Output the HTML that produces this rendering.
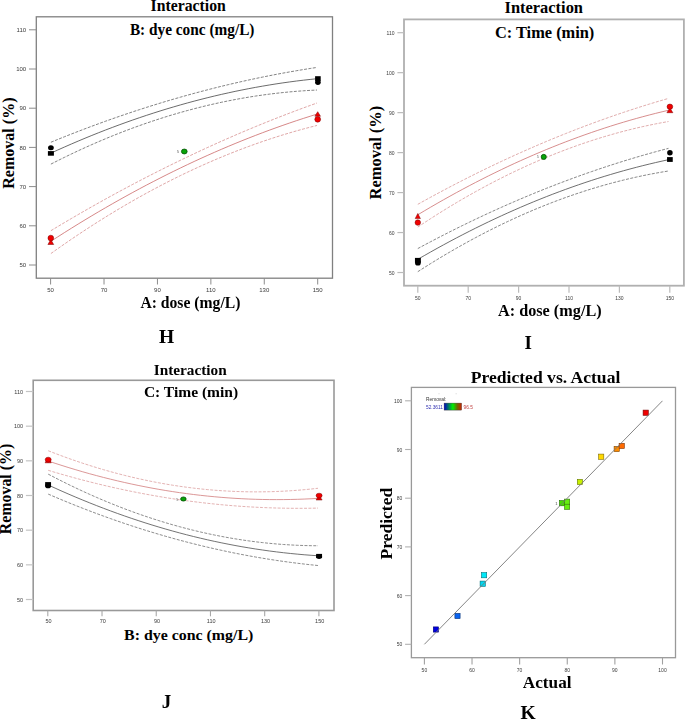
<!DOCTYPE html>
<html><head><meta charset="utf-8"><style>
html,body{margin:0;padding:0;background:#fff;}
body{width:685px;height:719px;overflow:hidden;}
svg{display:block;}
</style></head><body>
<svg width="685" height="719" viewBox="0 0 685 719">
<rect width="685" height="719" fill="#fff"/>
<rect x="36.3" y="16.8" width="296.2" height="261.4" fill="none" stroke="#808080" stroke-width="1.3"/>
<line x1="28.999999999999996" y1="29.80" x2="36.3" y2="29.80" stroke="#8c8c8c" stroke-width="1"/>
<text x="26.20" y="31.90" text-anchor="end" font-family='"Liberation Sans", sans-serif' font-size="6" fill="#3a3a3a" style="will-change:transform">110</text>
<line x1="28.999999999999996" y1="69.00" x2="36.3" y2="69.00" stroke="#8c8c8c" stroke-width="1"/>
<text x="26.20" y="71.10" text-anchor="end" font-family='"Liberation Sans", sans-serif' font-size="6" fill="#3a3a3a" style="will-change:transform">100</text>
<line x1="28.999999999999996" y1="108.20" x2="36.3" y2="108.20" stroke="#8c8c8c" stroke-width="1"/>
<text x="26.20" y="110.30" text-anchor="end" font-family='"Liberation Sans", sans-serif' font-size="6" fill="#3a3a3a" style="will-change:transform">90</text>
<line x1="28.999999999999996" y1="147.40" x2="36.3" y2="147.40" stroke="#8c8c8c" stroke-width="1"/>
<text x="26.20" y="149.50" text-anchor="end" font-family='"Liberation Sans", sans-serif' font-size="6" fill="#3a3a3a" style="will-change:transform">80</text>
<line x1="28.999999999999996" y1="186.60" x2="36.3" y2="186.60" stroke="#8c8c8c" stroke-width="1"/>
<text x="26.20" y="188.70" text-anchor="end" font-family='"Liberation Sans", sans-serif' font-size="6" fill="#3a3a3a" style="will-change:transform">70</text>
<line x1="28.999999999999996" y1="225.80" x2="36.3" y2="225.80" stroke="#8c8c8c" stroke-width="1"/>
<text x="26.20" y="227.90" text-anchor="end" font-family='"Liberation Sans", sans-serif' font-size="6" fill="#3a3a3a" style="will-change:transform">60</text>
<line x1="28.999999999999996" y1="265.00" x2="36.3" y2="265.00" stroke="#8c8c8c" stroke-width="1"/>
<text x="26.20" y="267.10" text-anchor="end" font-family='"Liberation Sans", sans-serif' font-size="6" fill="#3a3a3a" style="will-change:transform">50</text>
<line x1="50.60" y1="278.2" x2="50.60" y2="284.5" stroke="#8c8c8c" stroke-width="1"/>
<text x="50.60" y="292.40" text-anchor="middle" font-family='"Liberation Sans", sans-serif' font-size="6" fill="#3a3a3a" style="will-change:transform">50</text>
<line x1="104.02" y1="278.2" x2="104.02" y2="284.5" stroke="#8c8c8c" stroke-width="1"/>
<text x="104.02" y="292.40" text-anchor="middle" font-family='"Liberation Sans", sans-serif' font-size="6" fill="#3a3a3a" style="will-change:transform">70</text>
<line x1="157.44" y1="278.2" x2="157.44" y2="284.5" stroke="#8c8c8c" stroke-width="1"/>
<text x="157.44" y="292.40" text-anchor="middle" font-family='"Liberation Sans", sans-serif' font-size="6" fill="#3a3a3a" style="will-change:transform">90</text>
<line x1="210.86" y1="278.2" x2="210.86" y2="284.5" stroke="#8c8c8c" stroke-width="1"/>
<text x="210.86" y="292.40" text-anchor="middle" font-family='"Liberation Sans", sans-serif' font-size="6" fill="#3a3a3a" style="will-change:transform">110</text>
<line x1="264.28" y1="278.2" x2="264.28" y2="284.5" stroke="#8c8c8c" stroke-width="1"/>
<text x="264.28" y="292.40" text-anchor="middle" font-family='"Liberation Sans", sans-serif' font-size="6" fill="#3a3a3a" style="will-change:transform">130</text>
<line x1="317.70" y1="278.2" x2="317.70" y2="284.5" stroke="#8c8c8c" stroke-width="1"/>
<text x="317.70" y="292.40" text-anchor="middle" font-family='"Liberation Sans", sans-serif' font-size="6" fill="#3a3a3a" style="will-change:transform">150</text>
<text transform="translate(150.6,10.5) scale(0.9973,1)" font-family='"Liberation Serif", serif' font-size="15.8" font-weight="bold" fill="#000">Interaction</text>
<text transform="translate(129.9,34.9) scale(0.9695,1)" font-family='"Liberation Serif", serif' font-size="15.8" font-weight="bold" fill="#000">B: dye conc (mg/L)</text>
<text transform="translate(140.4,308.2) scale(0.992,1)" font-family='"Liberation Serif", serif' font-size="15.8" font-weight="bold" fill="#000">A: dose (mg/L)</text>
<text transform="translate(13.5,143.1) rotate(-90)" text-anchor="middle" font-family='"Liberation Serif", serif' font-size="16.05" font-weight="bold" fill="#000">Removal (%)</text>
<text x="166.5" y="342.5" text-anchor="middle" font-family='"Liberation Serif", serif' font-size="19.5" font-weight="bold" fill="#000" >H</text>
<path d="M50.90,142.25 L57.72,139.46 L64.55,136.72 L71.37,134.03 L78.19,131.38 L85.02,128.78 L91.84,126.22 L98.66,123.71 L105.48,121.24 L112.31,118.82 L119.13,116.45 L125.95,114.12 L132.78,111.83 L139.60,109.60 L146.42,107.40 L153.25,105.26 L160.07,103.16 L166.89,101.10 L173.72,99.09 L180.54,97.13 L187.36,95.21 L194.18,93.34 L201.01,91.51 L207.83,89.73 L214.65,87.99 L221.48,86.30 L228.30,84.65 L235.12,83.05 L241.95,81.50 L248.77,79.99 L255.59,78.53 L262.42,77.11 L269.24,75.74 L276.06,74.41 L282.88,73.13 L289.71,71.90 L296.53,70.71 L303.35,69.57 L310.18,68.47 L317.00,67.42" fill="none" stroke="#5a5a5a" stroke-width="0.75" stroke-dasharray="3,1.4"/>
<path d="M50.90,153.14 L57.72,150.03 L64.55,146.99 L71.37,144.00 L78.19,141.09 L85.02,138.23 L91.84,135.44 L98.66,132.71 L105.48,130.04 L112.31,127.44 L119.13,124.90 L125.95,122.43 L132.78,120.01 L139.60,117.66 L146.42,115.38 L153.25,113.15 L160.07,110.99 L166.89,108.89 L173.72,106.86 L180.54,104.89 L187.36,102.98 L194.18,101.14 L201.01,99.35 L207.83,97.63 L214.65,95.98 L221.48,94.39 L228.30,92.86 L235.12,91.39 L241.95,89.99 L248.77,88.65 L255.59,87.37 L262.42,86.16 L269.24,85.01 L276.06,83.92 L282.88,82.89 L289.71,81.93 L296.53,81.03 L303.35,80.20 L310.18,79.43 L317.00,78.72" fill="none" stroke="#454545" stroke-width="0.8"/>
<path d="M50.90,164.12 L57.72,160.66 L64.55,157.29 L71.37,153.99 L78.19,150.78 L85.02,147.65 L91.84,144.60 L98.66,141.64 L105.48,138.76 L112.31,135.95 L119.13,133.23 L125.95,130.60 L132.78,128.04 L139.60,125.57 L146.42,123.18 L153.25,120.87 L160.07,118.64 L166.89,116.49 L173.72,114.43 L180.54,112.45 L187.36,110.55 L194.18,108.73 L201.01,106.99 L207.83,105.34 L214.65,103.77 L221.48,102.28 L228.30,100.87 L235.12,99.55 L241.95,98.30 L248.77,97.14 L255.59,96.06 L262.42,95.07 L269.24,94.15 L276.06,93.32 L282.88,92.56 L289.71,91.90 L296.53,91.31 L303.35,90.80 L310.18,90.38 L317.00,90.04" fill="none" stroke="#5a5a5a" stroke-width="0.75" stroke-dasharray="3,1.4"/>
<path d="M50.90,230.69 L57.72,226.59 L64.55,222.53 L71.37,218.52 L78.19,214.55 L85.02,210.62 L91.84,206.73 L98.66,202.89 L105.48,199.10 L112.31,195.34 L119.13,191.63 L125.95,187.97 L132.78,184.35 L139.60,180.77 L146.42,177.23 L153.25,173.74 L160.07,170.29 L166.89,166.89 L173.72,163.53 L180.54,160.21 L187.36,156.94 L194.18,153.71 L201.01,150.52 L207.83,147.38 L214.65,144.28 L221.48,141.22 L228.30,138.21 L235.12,135.24 L241.95,132.31 L248.77,129.43 L255.59,126.59 L262.42,123.80 L269.24,121.05 L276.06,118.34 L282.88,115.68 L289.71,113.06 L296.53,110.48 L303.35,107.95 L310.18,105.46 L317.00,103.01" fill="none" stroke="#d48a8a" stroke-width="0.75" stroke-dasharray="3,1.4"/>
<path d="M50.90,241.26 L57.72,236.86 L64.55,232.52 L71.37,228.25 L78.19,224.03 L85.02,219.87 L91.84,215.77 L98.66,211.73 L105.48,207.75 L112.31,203.84 L119.13,199.98 L125.95,196.18 L132.78,192.44 L139.60,188.76 L146.42,185.14 L153.25,181.58 L160.07,178.08 L166.89,174.64 L173.72,171.26 L180.54,167.94 L187.36,164.68 L194.18,161.48 L201.01,158.34 L207.83,155.26 L214.65,152.24 L221.48,149.28 L228.30,146.38 L235.12,143.54 L241.95,140.76 L248.77,138.04 L255.59,135.38 L262.42,132.78 L269.24,130.23 L276.06,127.75 L282.88,125.33 L289.71,122.97 L296.53,120.67 L303.35,118.43 L310.18,116.24 L317.00,114.12" fill="none" stroke="#cc6a6a" stroke-width="0.8"/>
<path d="M50.90,253.54 L57.72,248.70 L64.55,243.94 L71.37,239.26 L78.19,234.66 L85.02,230.15 L91.84,225.71 L98.66,221.36 L105.48,217.09 L112.31,212.91 L119.13,208.80 L125.95,204.78 L132.78,200.84 L139.60,196.98 L146.42,193.20 L153.25,189.51 L160.07,185.90 L166.89,182.37 L173.72,178.92 L180.54,175.55 L187.36,172.27 L194.18,169.06 L201.01,165.94 L207.83,162.91 L214.65,159.95 L221.48,157.08 L228.30,154.28 L235.12,151.57 L241.95,148.95 L248.77,146.40 L255.59,143.94 L262.42,141.55 L269.24,139.25 L276.06,137.04 L282.88,134.90 L289.71,132.85 L296.53,130.88 L303.35,128.99 L310.18,127.18 L317.00,125.45" fill="none" stroke="#d48a8a" stroke-width="0.75" stroke-dasharray="3,1.4"/>
<ellipse cx="50.9" cy="147.8" rx="2.9" ry="2.5" fill="#000" stroke="none" stroke-width="0"/>
<rect x="47.90" y="151.10" width="6" height="4.6" fill="#000" stroke="none" stroke-width="0"/>
<rect x="315.10" y="76.20" width="5.6" height="4.8" fill="#000" stroke="none" stroke-width="0"/>
<ellipse cx="317.9" cy="82.3" rx="2.8" ry="2.7" fill="#000" stroke="none" stroke-width="0"/>
<polygon points="317.70,111.70 320.50,116.25 314.90,116.25" fill="#f00000" stroke="#7a0000" stroke-width="0.5"/>
<circle cx="317.7" cy="119.3" r="2.9" fill="#f00000" stroke="#7a0000" stroke-width="0.5"/>
<polygon points="50.80,239.50 53.70,244.50 47.90,244.50" fill="#f00000" stroke="#7a0000" stroke-width="0.5"/>
<circle cx="50.8" cy="238.05" r="2.85" fill="#f00000" stroke="#7a0000" stroke-width="0.5"/>
<ellipse cx="184.3" cy="151.5" rx="2.85" ry="2.45" fill="#08a408" stroke="#045004" stroke-width="0.8"/>
<text x="177.9" y="153.1" text-anchor="middle" font-family='"Liberation Sans", sans-serif' font-size="4.2" font-weight="normal" fill="#666" style="will-change:transform">5</text>
<rect x="404.0" y="19.4" width="279.9" height="266.3" fill="none" stroke="#b0b0b0" stroke-width="1.8"/>
<line x1="397.4" y1="32.70" x2="404.0" y2="32.70" stroke="#bbbbbb" stroke-width="1.2"/>
<text x="394.60" y="34.80" text-anchor="end" font-family='"Liberation Sans", sans-serif' font-size="5" fill="#3a3a3a" style="will-change:transform">110</text>
<line x1="397.4" y1="72.67" x2="404.0" y2="72.67" stroke="#bbbbbb" stroke-width="1.2"/>
<text x="394.60" y="74.77" text-anchor="end" font-family='"Liberation Sans", sans-serif' font-size="5" fill="#3a3a3a" style="will-change:transform">100</text>
<line x1="397.4" y1="112.64" x2="404.0" y2="112.64" stroke="#bbbbbb" stroke-width="1.2"/>
<text x="394.60" y="114.74" text-anchor="end" font-family='"Liberation Sans", sans-serif' font-size="5" fill="#3a3a3a" style="will-change:transform">90</text>
<line x1="397.4" y1="152.61" x2="404.0" y2="152.61" stroke="#bbbbbb" stroke-width="1.2"/>
<text x="394.60" y="154.71" text-anchor="end" font-family='"Liberation Sans", sans-serif' font-size="5" fill="#3a3a3a" style="will-change:transform">80</text>
<line x1="397.4" y1="192.58" x2="404.0" y2="192.58" stroke="#bbbbbb" stroke-width="1.2"/>
<text x="394.60" y="194.68" text-anchor="end" font-family='"Liberation Sans", sans-serif' font-size="5" fill="#3a3a3a" style="will-change:transform">70</text>
<line x1="397.4" y1="232.55" x2="404.0" y2="232.55" stroke="#bbbbbb" stroke-width="1.2"/>
<text x="394.60" y="234.65" text-anchor="end" font-family='"Liberation Sans", sans-serif' font-size="5" fill="#3a3a3a" style="will-change:transform">60</text>
<line x1="397.4" y1="272.52" x2="404.0" y2="272.52" stroke="#bbbbbb" stroke-width="1.2"/>
<text x="394.60" y="274.62" text-anchor="end" font-family='"Liberation Sans", sans-serif' font-size="5" fill="#3a3a3a" style="will-change:transform">50</text>
<line x1="417.80" y1="285.7" x2="417.80" y2="292.7" stroke="#bbbbbb" stroke-width="1.2"/>
<text x="417.80" y="299.50" text-anchor="middle" font-family='"Liberation Sans", sans-serif' font-size="5" fill="#3a3a3a" style="will-change:transform">50</text>
<line x1="468.20" y1="285.7" x2="468.20" y2="292.7" stroke="#bbbbbb" stroke-width="1.2"/>
<text x="468.20" y="299.50" text-anchor="middle" font-family='"Liberation Sans", sans-serif' font-size="5" fill="#3a3a3a" style="will-change:transform">70</text>
<line x1="518.60" y1="285.7" x2="518.60" y2="292.7" stroke="#bbbbbb" stroke-width="1.2"/>
<text x="518.60" y="299.50" text-anchor="middle" font-family='"Liberation Sans", sans-serif' font-size="5" fill="#3a3a3a" style="will-change:transform">90</text>
<line x1="569.00" y1="285.7" x2="569.00" y2="292.7" stroke="#bbbbbb" stroke-width="1.2"/>
<text x="569.00" y="299.50" text-anchor="middle" font-family='"Liberation Sans", sans-serif' font-size="5" fill="#3a3a3a" style="will-change:transform">110</text>
<line x1="619.40" y1="285.7" x2="619.40" y2="292.7" stroke="#bbbbbb" stroke-width="1.2"/>
<text x="619.40" y="299.50" text-anchor="middle" font-family='"Liberation Sans", sans-serif' font-size="5" fill="#3a3a3a" style="will-change:transform">130</text>
<line x1="669.80" y1="285.7" x2="669.80" y2="292.7" stroke="#bbbbbb" stroke-width="1.2"/>
<text x="669.80" y="299.50" text-anchor="middle" font-family='"Liberation Sans", sans-serif' font-size="5" fill="#3a3a3a" style="will-change:transform">150</text>
<text transform="translate(504.49,12.9) scale(1.0092,1)" font-family='"Liberation Serif", serif' font-size="16.3" font-weight="bold" fill="#000">Interaction</text>
<text transform="translate(494.89,38.4) scale(1.0052,1)" font-family='"Liberation Serif", serif' font-size="16.3" font-weight="bold" fill="#000">C: Time (min)</text>
<text transform="translate(498.0,315.5) scale(0.9961,1)" font-family='"Liberation Serif", serif' font-size="16.3" font-weight="bold" fill="#000">A: dose (mg/L)</text>
<text transform="translate(380.5,152.6) rotate(-90)" text-anchor="middle" font-family='"Liberation Serif", serif' font-size="16.45" font-weight="bold" fill="#000">Removal (%)</text>
<text x="528.3" y="348.6" text-anchor="middle" font-family='"Liberation Serif", serif' font-size="19" font-weight="bold" fill="#000" >I</text>
<path d="M417.80,204.32 L424.23,200.75 L430.66,197.23 L437.08,193.75 L443.51,190.31 L449.94,186.92 L456.37,183.58 L462.80,180.28 L469.23,177.02 L475.65,173.81 L482.08,170.64 L488.51,167.52 L494.94,164.45 L501.37,161.42 L507.79,158.43 L514.22,155.49 L520.65,152.60 L527.08,149.75 L533.51,146.94 L539.94,144.18 L546.36,141.46 L552.79,138.79 L559.22,136.17 L565.65,133.58 L572.08,131.05 L578.51,128.56 L584.93,126.11 L591.36,123.71 L597.79,121.35 L604.22,119.04 L610.65,116.77 L617.07,114.55 L623.50,112.38 L629.93,110.24 L636.36,108.16 L642.79,106.12 L649.22,104.12 L655.64,102.17 L662.07,100.26 L668.50,98.40" fill="none" stroke="#d89898" stroke-width="0.8" stroke-dasharray="3,1.4"/>
<path d="M417.80,214.79 L424.23,210.95 L430.66,207.17 L437.08,203.45 L443.51,199.79 L449.94,196.19 L456.37,192.65 L462.80,189.18 L469.23,185.76 L475.65,182.41 L482.08,179.12 L488.51,175.89 L494.94,172.72 L501.37,169.61 L507.79,166.56 L514.22,163.57 L520.65,160.65 L527.08,157.79 L533.51,154.98 L539.94,152.24 L546.36,149.56 L552.79,146.94 L559.22,144.39 L565.65,141.89 L572.08,139.46 L578.51,137.08 L584.93,134.77 L591.36,132.52 L597.79,130.33 L604.22,128.20 L610.65,126.13 L617.07,124.12 L623.50,122.18 L629.93,120.29 L636.36,118.47 L642.79,116.71 L649.22,115.01 L655.64,113.37 L662.07,111.79 L668.50,110.28" fill="none" stroke="#d07a7a" stroke-width="0.85"/>
<path d="M417.80,227.05 L424.23,222.79 L430.66,218.61 L437.08,214.51 L443.51,210.49 L449.94,206.56 L456.37,202.70 L462.80,198.93 L469.23,195.24 L475.65,191.64 L482.08,188.11 L488.51,184.67 L494.94,181.31 L501.37,178.03 L507.79,174.83 L514.22,171.71 L520.65,168.68 L527.08,165.73 L533.51,162.86 L539.94,160.07 L546.36,157.36 L552.79,154.74 L559.22,152.20 L565.65,149.74 L572.08,147.36 L578.51,145.06 L584.93,142.85 L591.36,140.71 L597.79,138.66 L604.22,136.69 L610.65,134.81 L617.07,133.00 L623.50,131.28 L629.93,129.64 L636.36,128.08 L642.79,126.60 L649.22,125.21 L655.64,123.89 L662.07,122.66 L668.50,121.51" fill="none" stroke="#d89898" stroke-width="0.8" stroke-dasharray="3,1.4"/>
<path d="M417.80,248.57 L424.23,245.12 L430.66,241.71 L437.08,238.36 L443.51,235.05 L449.94,231.78 L456.37,228.56 L462.80,225.39 L469.23,222.27 L475.65,219.19 L482.08,216.15 L488.51,213.17 L494.94,210.23 L501.37,207.33 L507.79,204.49 L514.22,201.69 L520.65,198.93 L527.08,196.22 L533.51,193.56 L539.94,190.94 L546.36,188.37 L552.79,185.85 L559.22,183.37 L565.65,180.94 L572.08,178.56 L578.51,176.22 L584.93,173.92 L591.36,171.68 L597.79,169.48 L604.22,167.33 L610.65,165.22 L617.07,163.16 L623.50,161.14 L629.93,159.18 L636.36,157.25 L642.79,155.38 L649.22,153.55 L655.64,151.77 L662.07,150.03 L668.50,148.34" fill="none" stroke="#6a6a6a" stroke-width="0.8" stroke-dasharray="3,1.4"/>
<path d="M417.80,259.34 L424.23,255.63 L430.66,251.98 L437.08,248.39 L443.51,244.86 L449.94,241.39 L456.37,237.98 L462.80,234.63 L469.23,231.35 L475.65,228.12 L482.08,224.96 L488.51,221.85 L494.94,218.81 L501.37,215.83 L507.79,212.91 L514.22,210.05 L520.65,207.25 L527.08,204.51 L533.51,201.84 L539.94,199.22 L546.36,196.67 L552.79,194.17 L559.22,191.74 L565.65,189.37 L572.08,187.06 L578.51,184.81 L584.93,182.62 L591.36,180.49 L597.79,178.42 L604.22,176.42 L610.65,174.47 L617.07,172.59 L623.50,170.76 L629.93,169.00 L636.36,167.30 L642.79,165.66 L649.22,164.08 L655.64,162.56 L662.07,161.10 L668.50,159.70" fill="none" stroke="#555555" stroke-width="0.85"/>
<path d="M417.80,271.70 L424.23,267.59 L430.66,263.56 L437.08,259.61 L443.51,255.74 L449.94,251.96 L456.37,248.25 L462.80,244.62 L469.23,241.07 L475.65,237.61 L482.08,234.22 L488.51,230.91 L494.94,227.69 L501.37,224.54 L507.79,221.48 L514.22,218.49 L520.65,215.59 L527.08,212.77 L533.51,210.02 L539.94,207.36 L546.36,204.78 L552.79,202.28 L559.22,199.85 L565.65,197.51 L572.08,195.25 L578.51,193.07 L584.93,190.97 L591.36,188.95 L597.79,187.01 L604.22,185.15 L610.65,183.38 L617.07,181.68 L623.50,180.06 L629.93,178.52 L636.36,177.07 L642.79,175.69 L649.22,174.39 L655.64,173.18 L662.07,172.04 L668.50,170.99" fill="none" stroke="#6a6a6a" stroke-width="0.8" stroke-dasharray="3,1.4"/>
<polygon points="417.80,213.50 420.40,218.60 415.20,218.60" fill="#f00000" stroke="#7a0000" stroke-width="0.5"/>
<circle cx="417.8" cy="222.6" r="2.75" fill="#f00000" stroke="#7a0000" stroke-width="0.5"/>
<rect x="414.95" y="257.90" width="5.9" height="4.8" fill="#000" stroke="none" stroke-width="0"/>
<circle cx="417.9" cy="262.7" r="2.9" fill="#000" stroke="none" stroke-width="0"/>
<circle cx="543.75" cy="156.9" r="2.55" fill="#08a408" stroke="#045004" stroke-width="0.8"/>
<text x="537.8" y="158.3" text-anchor="middle" font-family='"Liberation Sans", sans-serif' font-size="3.8" font-weight="normal" fill="#666" style="will-change:transform">5</text>
<polygon points="669.90,108.10 672.90,112.70 666.90,112.70" fill="#f00000" stroke="#7a0000" stroke-width="0.5"/>
<ellipse cx="669.9" cy="106.7" rx="2.85" ry="2.65" fill="#f00000" stroke="#7a0000" stroke-width="0.5"/>
<circle cx="669.9" cy="152.7" r="2.75" fill="#000" stroke="none" stroke-width="0"/>
<rect x="667.05" y="157.10" width="5.7" height="4.8" fill="#000" stroke="none" stroke-width="0"/>
<rect x="33.2" y="380.3" width="300.8" height="230.2" fill="none" stroke="#999999" stroke-width="1.6"/>
<line x1="25.900000000000002" y1="391.50" x2="33.2" y2="391.50" stroke="#c4c4c4" stroke-width="1.2"/>
<text x="23.10" y="393.60" text-anchor="end" font-family='"Liberation Sans", sans-serif' font-size="5.5" fill="#3a3a3a" style="will-change:transform">110</text>
<line x1="25.900000000000002" y1="426.17" x2="33.2" y2="426.17" stroke="#c4c4c4" stroke-width="1.2"/>
<text x="23.10" y="428.27" text-anchor="end" font-family='"Liberation Sans", sans-serif' font-size="5.5" fill="#3a3a3a" style="will-change:transform">100</text>
<line x1="25.900000000000002" y1="460.83" x2="33.2" y2="460.83" stroke="#c4c4c4" stroke-width="1.2"/>
<text x="23.10" y="462.93" text-anchor="end" font-family='"Liberation Sans", sans-serif' font-size="5.5" fill="#3a3a3a" style="will-change:transform">90</text>
<line x1="25.900000000000002" y1="495.50" x2="33.2" y2="495.50" stroke="#c4c4c4" stroke-width="1.2"/>
<text x="23.10" y="497.60" text-anchor="end" font-family='"Liberation Sans", sans-serif' font-size="5.5" fill="#3a3a3a" style="will-change:transform">80</text>
<line x1="25.900000000000002" y1="530.17" x2="33.2" y2="530.17" stroke="#c4c4c4" stroke-width="1.2"/>
<text x="23.10" y="532.27" text-anchor="end" font-family='"Liberation Sans", sans-serif' font-size="5.5" fill="#3a3a3a" style="will-change:transform">70</text>
<line x1="25.900000000000002" y1="564.84" x2="33.2" y2="564.84" stroke="#c4c4c4" stroke-width="1.2"/>
<text x="23.10" y="566.94" text-anchor="end" font-family='"Liberation Sans", sans-serif' font-size="5.5" fill="#3a3a3a" style="will-change:transform">60</text>
<line x1="25.900000000000002" y1="599.50" x2="33.2" y2="599.50" stroke="#c4c4c4" stroke-width="1.2"/>
<text x="23.10" y="601.60" text-anchor="end" font-family='"Liberation Sans", sans-serif' font-size="5.5" fill="#3a3a3a" style="will-change:transform">50</text>
<line x1="47.80" y1="610.5" x2="47.80" y2="616.3" stroke="#a8a8a8" stroke-width="1.1"/>
<text x="48.60" y="623.00" text-anchor="middle" font-family='"Liberation Sans", sans-serif' font-size="5.5" fill="#3a3a3a" style="will-change:transform">50</text>
<line x1="102.02" y1="610.5" x2="102.02" y2="616.3" stroke="#a8a8a8" stroke-width="1.1"/>
<text x="102.82" y="623.00" text-anchor="middle" font-family='"Liberation Sans", sans-serif' font-size="5.5" fill="#3a3a3a" style="will-change:transform">70</text>
<line x1="156.24" y1="610.5" x2="156.24" y2="616.3" stroke="#a8a8a8" stroke-width="1.1"/>
<text x="157.04" y="623.00" text-anchor="middle" font-family='"Liberation Sans", sans-serif' font-size="5.5" fill="#3a3a3a" style="will-change:transform">90</text>
<line x1="210.46" y1="610.5" x2="210.46" y2="616.3" stroke="#a8a8a8" stroke-width="1.1"/>
<text x="211.26" y="623.00" text-anchor="middle" font-family='"Liberation Sans", sans-serif' font-size="5.5" fill="#3a3a3a" style="will-change:transform">110</text>
<line x1="264.68" y1="610.5" x2="264.68" y2="616.3" stroke="#a8a8a8" stroke-width="1.1"/>
<text x="265.48" y="623.00" text-anchor="middle" font-family='"Liberation Sans", sans-serif' font-size="5.5" fill="#3a3a3a" style="will-change:transform">130</text>
<line x1="318.90" y1="610.5" x2="318.90" y2="616.3" stroke="#a8a8a8" stroke-width="1.1"/>
<text x="319.70" y="623.00" text-anchor="middle" font-family='"Liberation Sans", sans-serif' font-size="5.5" fill="#3a3a3a" style="will-change:transform">150</text>
<text transform="translate(153.71,375.0) scale(0.9863,1)" font-family='"Liberation Serif", serif' font-size="15.5" font-weight="bold" fill="#000">Interaction</text>
<text transform="translate(143.9,396.9) scale(1.0022,1)" font-family='"Liberation Serif", serif' font-size="15.5" font-weight="bold" fill="#000">C: Time (min)</text>
<text transform="translate(124.07,640.2) scale(1.0256,1)" font-family='"Liberation Serif", serif' font-size="15.5" font-weight="bold" fill="#000">B: dye conc (mg/L)</text>
<text transform="translate(10.8,489.0) rotate(-90)" text-anchor="middle" font-family='"Liberation Serif", serif' font-size="15.9" font-weight="bold" fill="#000">Removal (%)</text>
<text x="166.5" y="707.7" text-anchor="middle" font-family='"Liberation Serif", serif' font-size="19" font-weight="bold" fill="#000" >J</text>
<path d="M48.20,450.73 L55.12,453.41 L62.04,456.01 L68.95,458.52 L75.87,460.93 L82.79,463.26 L89.71,465.49 L96.63,467.63 L103.54,469.69 L110.46,471.65 L117.38,473.52 L124.30,475.30 L131.22,476.99 L138.13,478.59 L145.05,480.09 L151.97,481.51 L158.89,482.84 L165.81,484.07 L172.72,485.22 L179.64,486.27 L186.56,487.23 L193.48,488.11 L200.39,488.89 L207.31,489.58 L214.23,490.18 L221.15,490.69 L228.07,491.10 L234.98,491.43 L241.90,491.67 L248.82,491.81 L255.74,491.87 L262.66,491.83 L269.57,491.71 L276.49,491.49 L283.41,491.18 L290.33,490.78 L297.25,490.30 L304.16,489.71 L311.08,489.04 L318.00,488.28" fill="none" stroke="#dca0a0" stroke-width="0.8" stroke-dasharray="3,1.4"/>
<path d="M48.20,461.00 L55.12,463.30 L62.04,465.53 L68.95,467.70 L75.87,469.78 L82.79,471.80 L89.71,473.75 L96.63,475.63 L103.54,477.44 L110.46,479.17 L117.38,480.84 L124.30,482.43 L131.22,483.96 L138.13,485.41 L145.05,486.79 L151.97,488.11 L158.89,489.35 L165.81,490.52 L172.72,491.62 L179.64,492.65 L186.56,493.60 L193.48,494.49 L200.39,495.31 L207.31,496.05 L214.23,496.73 L221.15,497.33 L228.07,497.87 L234.98,498.33 L241.90,498.72 L248.82,499.05 L255.74,499.30 L262.66,499.48 L269.57,499.59 L276.49,499.62 L283.41,499.59 L290.33,499.49 L297.25,499.32 L304.16,499.07 L311.08,498.76 L318.00,498.37" fill="none" stroke="#d48484" stroke-width="0.85"/>
<path d="M48.20,470.31 L55.12,472.38 L62.04,474.39 L68.95,476.35 L75.87,478.25 L82.79,480.09 L89.71,481.87 L96.63,483.59 L103.54,485.26 L110.46,486.87 L117.38,488.42 L124.30,489.91 L131.22,491.34 L138.13,492.72 L145.05,494.03 L151.97,495.29 L158.89,496.50 L165.81,497.64 L172.72,498.72 L179.64,499.75 L186.56,500.72 L193.48,501.63 L200.39,502.48 L207.31,503.28 L214.23,504.01 L221.15,504.69 L228.07,505.31 L234.98,505.87 L241.90,506.38 L248.82,506.82 L255.74,507.21 L262.66,507.54 L269.57,507.81 L276.49,508.03 L283.41,508.18 L290.33,508.28 L297.25,508.32 L304.16,508.30 L311.08,508.22 L318.00,508.09" fill="none" stroke="#dca0a0" stroke-width="0.8" stroke-dasharray="3,1.4"/>
<path d="M48.20,474.13 L55.12,477.74 L62.04,481.25 L68.95,484.68 L75.87,488.00 L82.79,491.24 L89.71,494.38 L96.63,497.43 L103.54,500.38 L110.46,503.24 L117.38,506.01 L124.30,508.69 L131.22,511.27 L138.13,513.76 L145.05,516.15 L151.97,518.45 L158.89,520.66 L165.81,522.78 L172.72,524.80 L179.64,526.73 L186.56,528.57 L193.48,530.31 L200.39,531.96 L207.31,533.52 L214.23,534.98 L221.15,536.35 L228.07,537.63 L234.98,538.81 L241.90,539.90 L248.82,540.90 L255.74,541.81 L262.66,542.62 L269.57,543.34 L276.49,543.96 L283.41,544.49 L290.33,544.93 L297.25,545.28 L304.16,545.53 L311.08,545.69 L318.00,545.75" fill="none" stroke="#707070" stroke-width="0.8" stroke-dasharray="3,1.4"/>
<path d="M48.20,484.98 L55.12,488.14 L62.04,491.24 L68.95,494.26 L75.87,497.21 L82.79,500.08 L89.71,502.89 L96.63,505.63 L103.54,508.29 L110.46,510.89 L117.38,513.41 L124.30,515.87 L131.22,518.25 L138.13,520.56 L145.05,522.80 L151.97,524.97 L158.89,527.07 L165.81,529.10 L172.72,531.05 L179.64,532.94 L186.56,534.75 L193.48,536.50 L200.39,538.17 L207.31,539.77 L214.23,541.30 L221.15,542.76 L228.07,544.15 L234.98,545.47 L241.90,546.72 L248.82,547.89 L255.74,549.00 L262.66,550.03 L269.57,551.00 L276.49,551.89 L283.41,552.71 L290.33,553.46 L297.25,554.14 L304.16,554.75 L311.08,555.29 L318.00,555.75" fill="none" stroke="#5a5a5a" stroke-width="0.85"/>
<path d="M48.20,494.10 L55.12,497.06 L62.04,499.96 L68.95,502.80 L75.87,505.58 L82.79,508.30 L89.71,510.96 L96.63,513.57 L103.54,516.11 L110.46,518.59 L117.38,521.02 L124.30,523.38 L131.22,525.69 L138.13,527.93 L145.05,530.12 L151.97,532.25 L158.89,534.32 L165.81,536.33 L172.72,538.28 L179.64,540.17 L186.56,542.00 L193.48,543.77 L200.39,545.48 L207.31,547.14 L214.23,548.73 L221.15,550.26 L228.07,551.74 L234.98,553.16 L241.90,554.51 L248.82,555.81 L255.74,557.05 L262.66,558.23 L269.57,559.35 L276.49,560.41 L283.41,561.41 L290.33,562.35 L297.25,563.23 L304.16,564.05 L311.08,564.82 L318.00,565.52" fill="none" stroke="#707070" stroke-width="0.8" stroke-dasharray="3,1.4"/>
<polygon points="48.20,458.00 51.30,462.80 45.10,462.80" fill="#f00000" stroke="#7a0000" stroke-width="0.5"/>
<ellipse cx="48.2" cy="459.7" rx="3" ry="2.5" fill="#f00000" stroke="#7a0000" stroke-width="0.5"/>
<rect x="45.15" y="482.10" width="5.9" height="4.4" fill="#000" stroke="none" stroke-width="0"/>
<ellipse cx="48.1" cy="485.9" rx="2.95" ry="2.4" fill="#000" stroke="none" stroke-width="0"/>
<ellipse cx="183.4" cy="499" rx="2.75" ry="2.05" fill="#08a408" stroke="#045004" stroke-width="0.8"/>
<text x="177.2" y="500.6" text-anchor="middle" font-family='"Liberation Sans", sans-serif' font-size="3.8" font-weight="normal" fill="#666" style="will-change:transform">5</text>
<polygon points="319.10,495.50 322.15,500.00 316.05,500.00" fill="#f00000" stroke="#7a0000" stroke-width="0.5"/>
<ellipse cx="319.1" cy="495.6" rx="3" ry="2.4" fill="#f00000" stroke="#7a0000" stroke-width="0.5"/>
<rect x="316.15" y="553.90" width="5.9" height="4.2" fill="#000" stroke="none" stroke-width="0"/>
<ellipse cx="319.1" cy="556.5" rx="2.95" ry="2.4" fill="#000" stroke="none" stroke-width="0"/>
<rect x="411.4" y="387.4" width="264.1" height="270.30000000000007" fill="none" stroke="#999999" stroke-width="1.3"/>
<line x1="405.09999999999997" y1="400.80" x2="411.4" y2="400.80" stroke="#b0b0b0" stroke-width="1.1"/>
<text x="402.30" y="402.90" text-anchor="end" font-family='"Liberation Sans", sans-serif' font-size="5" fill="#3a3a3a" style="will-change:transform">100</text>
<line x1="405.09999999999997" y1="449.50" x2="411.4" y2="449.50" stroke="#b0b0b0" stroke-width="1.1"/>
<text x="402.30" y="451.60" text-anchor="end" font-family='"Liberation Sans", sans-serif' font-size="5" fill="#3a3a3a" style="will-change:transform">90</text>
<line x1="405.09999999999997" y1="498.20" x2="411.4" y2="498.20" stroke="#b0b0b0" stroke-width="1.1"/>
<text x="402.30" y="500.30" text-anchor="end" font-family='"Liberation Sans", sans-serif' font-size="5" fill="#3a3a3a" style="will-change:transform">80</text>
<line x1="405.09999999999997" y1="546.90" x2="411.4" y2="546.90" stroke="#b0b0b0" stroke-width="1.1"/>
<text x="402.30" y="549.00" text-anchor="end" font-family='"Liberation Sans", sans-serif' font-size="5" fill="#3a3a3a" style="will-change:transform">70</text>
<line x1="405.09999999999997" y1="595.60" x2="411.4" y2="595.60" stroke="#b0b0b0" stroke-width="1.1"/>
<text x="402.30" y="597.70" text-anchor="end" font-family='"Liberation Sans", sans-serif' font-size="5" fill="#3a3a3a" style="will-change:transform">60</text>
<line x1="405.09999999999997" y1="644.30" x2="411.4" y2="644.30" stroke="#b0b0b0" stroke-width="1.1"/>
<text x="402.30" y="646.40" text-anchor="end" font-family='"Liberation Sans", sans-serif' font-size="5" fill="#3a3a3a" style="will-change:transform">50</text>
<line x1="424.40" y1="657.7" x2="424.40" y2="664.5" stroke="#a0a0a0" stroke-width="1.1"/>
<text x="424.40" y="671.60" text-anchor="middle" font-family='"Liberation Sans", sans-serif' font-size="5" fill="#3a3a3a" style="will-change:transform">50</text>
<line x1="472.02" y1="657.7" x2="472.02" y2="664.5" stroke="#a0a0a0" stroke-width="1.1"/>
<text x="472.02" y="671.60" text-anchor="middle" font-family='"Liberation Sans", sans-serif' font-size="5" fill="#3a3a3a" style="will-change:transform">60</text>
<line x1="519.64" y1="657.7" x2="519.64" y2="664.5" stroke="#a0a0a0" stroke-width="1.1"/>
<text x="519.64" y="671.60" text-anchor="middle" font-family='"Liberation Sans", sans-serif' font-size="5" fill="#3a3a3a" style="will-change:transform">70</text>
<line x1="567.26" y1="657.7" x2="567.26" y2="664.5" stroke="#a0a0a0" stroke-width="1.1"/>
<text x="567.26" y="671.60" text-anchor="middle" font-family='"Liberation Sans", sans-serif' font-size="5" fill="#3a3a3a" style="will-change:transform">80</text>
<line x1="614.88" y1="657.7" x2="614.88" y2="664.5" stroke="#a0a0a0" stroke-width="1.1"/>
<text x="614.88" y="671.60" text-anchor="middle" font-family='"Liberation Sans", sans-serif' font-size="5" fill="#3a3a3a" style="will-change:transform">90</text>
<line x1="662.50" y1="657.7" x2="662.50" y2="664.5" stroke="#a0a0a0" stroke-width="1.1"/>
<text x="662.50" y="671.60" text-anchor="middle" font-family='"Liberation Sans", sans-serif' font-size="5" fill="#3a3a3a" style="will-change:transform">100</text>
<text transform="translate(470.8,382.8) scale(1.0048,1)" font-family='"Liberation Serif", serif' font-size="17.5" font-weight="bold" fill="#000">Predicted vs. Actual</text>
<text transform="translate(522.8,688.0) scale(0.9837,1)" font-family='"Liberation Serif", serif' font-size="17.5" font-weight="bold" fill="#000">Actual</text>
<text transform="translate(391.6,523.6) rotate(-90)" text-anchor="middle" font-family='"Liberation Serif", serif' font-size="17.5" font-weight="bold" fill="#000">Predicted</text>
<text x="528.2" y="719" text-anchor="middle" font-family='"Liberation Serif", serif' font-size="19.5" font-weight="bold" fill="#000" >K</text>
<defs><linearGradient id="g" x1="0" x2="1"><stop offset="0" stop-color="#0000c8"/><stop offset="0.5" stop-color="#00f000"/><stop offset="0.75" stop-color="#6a6a00"/><stop offset="1" stop-color="#d02000"/></linearGradient></defs>
<rect x="444.1" y="403.1" width="17.5" height="7" fill="url(#g)" stroke="#333" stroke-width="0.4"/>
<rect x="438.6" y="393.4" width="0.8" height="0.8" fill="#bbb"/><rect x="455.7" y="393.4" width="0.8" height="0.8" fill="#bbb"/>
<text x="426" y="400.8" text-anchor="start" font-family='"Liberation Sans", sans-serif' font-size="4.8" font-weight="normal" fill="#333" style="will-change:transform">Removal:</text>
<text x="426" y="408.5" text-anchor="start" font-family='"Liberation Sans", sans-serif' font-size="4.8" font-weight="normal" fill="#3030b0" style="will-change:transform">52.3611</text>
<text x="463.6" y="408.5" text-anchor="start" font-family='"Liberation Sans", sans-serif' font-size="4.8" font-weight="normal" fill="#c04040" style="will-change:transform">96.5</text>
<rect x="433.30" y="626.90" width="5.2" height="5.2" fill="#0000e0" stroke="#000070" stroke-width="0.6"/>
<rect x="454.90" y="613.40" width="5.2" height="5.2" fill="#0a64f0" stroke="#053278" stroke-width="0.6"/>
<rect x="481.50" y="572.60" width="5.2" height="5.2" fill="#00e8f8" stroke="#00747c" stroke-width="0.6"/>
<rect x="480.10" y="581.10" width="5.2" height="5.2" fill="#00d8f0" stroke="#006c78" stroke-width="0.6"/>
<rect x="559.40" y="500.60" width="5.2" height="5.2" fill="#44dd00" stroke="#226e00" stroke-width="0.6"/>
<rect x="564.50" y="499.10" width="5.2" height="5.2" fill="#66ee11" stroke="#337708" stroke-width="0.6"/>
<rect x="564.50" y="504.20" width="5.2" height="5.2" fill="#66ee11" stroke="#337708" stroke-width="0.6"/>
<rect x="577.30" y="479.40" width="5.2" height="5.2" fill="#c8f000" stroke="#647800" stroke-width="0.6"/>
<rect x="598.60" y="454.10" width="5.2" height="5.2" fill="#ffd800" stroke="#7f6c00" stroke-width="0.6"/>
<rect x="614.10" y="446.40" width="5.2" height="5.2" fill="#ff8c00" stroke="#7f4600" stroke-width="0.6"/>
<rect x="619.10" y="443.30" width="5.2" height="5.2" fill="#ff6a00" stroke="#7f3500" stroke-width="0.6"/>
<rect x="643.10" y="410.10" width="5.2" height="5.2" fill="#ee0000" stroke="#770000" stroke-width="0.6"/>
<line x1="424.4" y1="644.3" x2="662.5" y2="400.8" stroke="#777" stroke-width="0.9"/>
<text x="556.4" y="504.8" text-anchor="middle" font-family='"Liberation Sans", sans-serif' font-size="4" font-weight="normal" fill="#444" style="will-change:transform">1</text>
</svg>
</body></html>
